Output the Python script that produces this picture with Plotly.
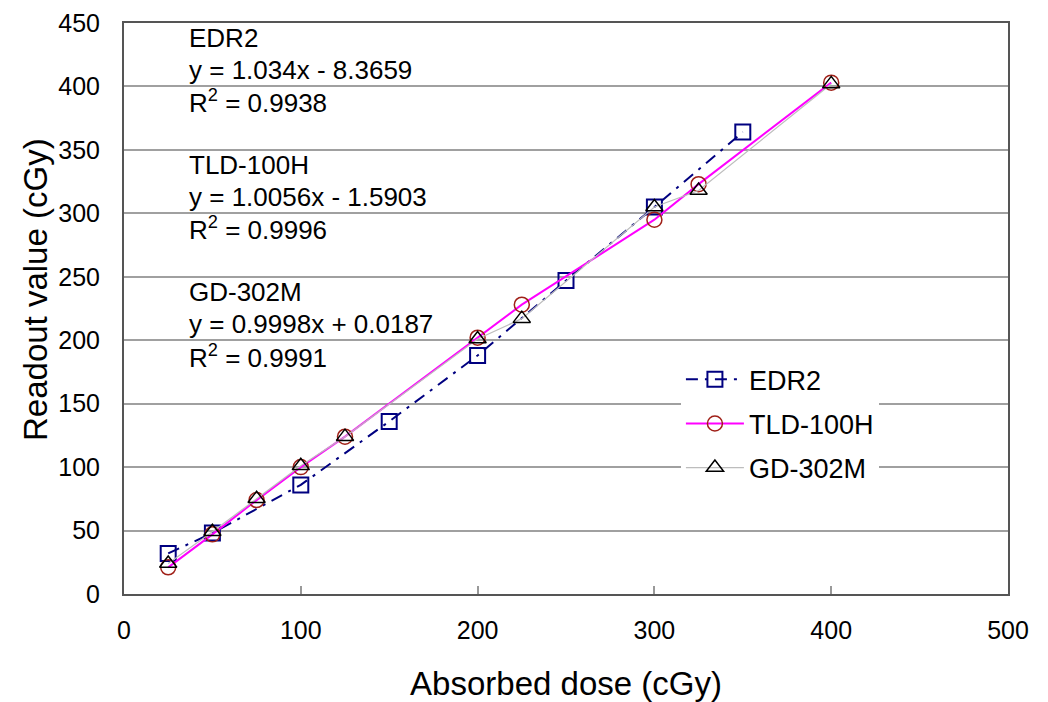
import plotly.graph_objects as go

# ---- data ----
edr2_x = [25, 50, 100, 150, 200, 250, 300, 350]
edr2_y = [32, 48, 86, 136, 188, 247, 305, 364]

tld_x = [25, 50, 75, 100, 125, 200, 225, 300, 325, 400]
tld_y = [21, 47, 74, 100, 124, 202, 228, 295, 323, 403]

gd_x = [25, 50, 75, 100, 125, 200, 225, 300, 325, 400]
gd_y = [24, 49, 75, 101, 124, 201, 217, 305, 318, 402]

fit_lines = [
    "EDR2", "y = 1.034x - 8.3659", "R<sup>2</sup> = 0.9938", "",
    "TLD-100H", "y = 1.0056x - 1.5903", "R<sup>2</sup> = 0.9996", "",
    "GD-302M", "y = 0.9998x + 0.0187", "R<sup>2</sup> = 0.9991",
]

x_ticks = [0, 100, 200, 300, 400, 500]
y_ticks = [0, 50, 100, 150, 200, 250, 300, 350, 400, 450]

x_title = "Absorbed dose (cGy)"
y_title = "Readout value (cGy)"

FONT = "Liberation Sans, Arial, sans-serif"

fig = go.Figure()

fig.add_trace(go.Scatter(
    x=edr2_x, y=edr2_y, name="EDR2", mode="lines+markers",
    legendgroup="a",
    line=dict(color="#000080", width=2, dash="12px,7px,3px,7px"),
    marker=dict(symbol="square-open", size=15, color="#000080",
                line=dict(width=2, color="#000080")),
))
fig.add_trace(go.Scatter(
    x=tld_x, y=tld_y, name="TLD-100H", mode="lines+markers",
    legendgroup="b",
    line=dict(color="#FF00FF", width=2),
    marker=dict(symbol="circle-open", size=15, color="#A02018",
                line=dict(width=1.5, color="#A02018")),
))
fig.add_trace(go.Scatter(
    x=gd_x, y=gd_y, name="GD-302M", mode="lines+markers",
    legendgroup="c",
    line=dict(color="#BDBDBD", width=1.2),
    marker=dict(symbol="triangle-up-open", size=15, color="#000000",
                line=dict(width=1.5, color="#000000")),
))

# one annotation per text line, first line centred at 38 px from top, 31.8 px apart
plot_top, plot_h, plot_l, plot_w = 23, 571, 124, 884
for i, txt in enumerate(fit_lines):
    if not txt:
        continue
    ypx = 38 + i * 31.8
    fig.add_annotation(
        x=0.071, y=1 - (ypx - plot_top) / plot_h, xref="paper", yref="paper",
        xanchor="left", yanchor="middle", align="left",
        text=txt, showarrow=False,
        font=dict(family=FONT, size=26, color="#000000"),
    )

# y-axis title as rotated annotation (centred at x=35px, y=290px)
fig.add_annotation(
    x=(35 - plot_l) / plot_w, y=1 - (290 - plot_top) / plot_h,
    xref="paper", yref="paper", xanchor="center", yanchor="middle",
    text=y_title, textangle=-90, showarrow=False,
    font=dict(family=FONT, size=33, color="#000000"),
)

fig.update_layout(
    width=1048, height=702,
    margin=dict(l=124, r=40, t=23, b=108),
    paper_bgcolor="white", plot_bgcolor="white",
    font=dict(family=FONT, color="#000000"),
    legend=dict(
        x=0.630, y=0.418, xanchor="left", yanchor="top",
        bgcolor="white", borderwidth=0,
        font=dict(family=FONT, size=27, color="#000000"),
        tracegroupgap=6, itemwidth=58,
    ),
    showlegend=True,
)

fig.update_xaxes(
    range=[0, 500], tickvals=x_ticks, ticktext=[str(v) for v in x_ticks],
    showgrid=False, zeroline=False,
    showline=True, linecolor="#555555", linewidth=2, mirror=True,
    ticks="inside", ticklen=8, tickcolor="#999999", tickwidth=1.5,
    tickfont=dict(family=FONT, size=25, color="#000000"),
    ticklabelstandoff=13,
    title=dict(text=x_title, font=dict(family=FONT, size=33, color="#000000"),
               standoff=29),
    automargin=False,
)
fig.update_yaxes(
    range=[0, 450], tickvals=y_ticks, ticktext=[str(v) for v in y_ticks],
    showgrid=True, gridcolor="#A0A0A0", gridwidth=1.5, zeroline=False,
    showline=True, linecolor="#555555", linewidth=2, mirror=True,
    ticks="",
    tickfont=dict(family=FONT, size=25, color="#000000"),
    ticklabelstandoff=17,
    automargin=False,
)

fig.write_html("out.html")
